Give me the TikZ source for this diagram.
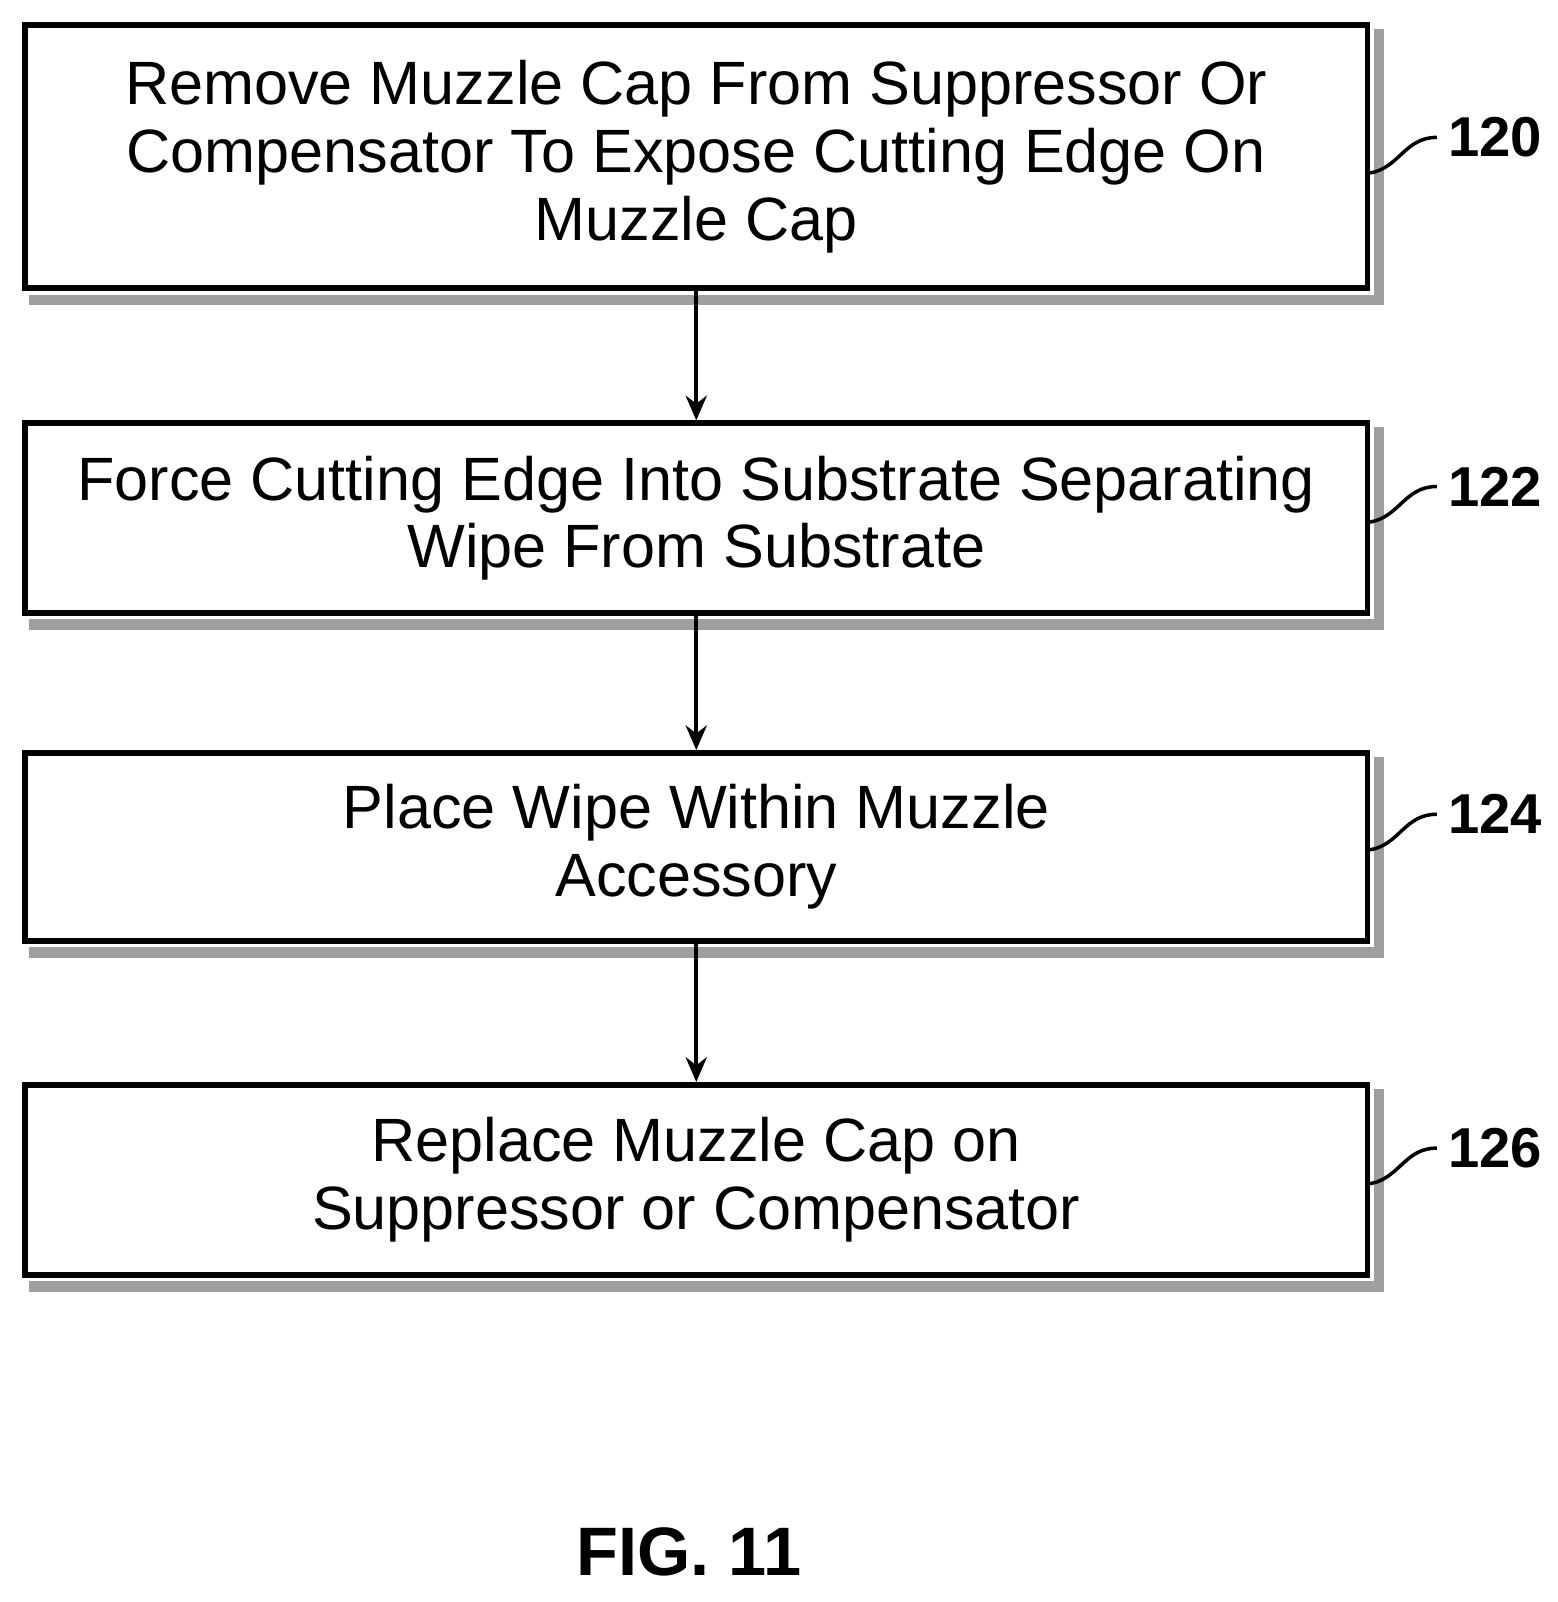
\documentclass[tikz,border=0pt]{standalone}
\usepackage{fontspec}
\setmainfont{Liberation Sans}
\usetikzlibrary{arrows.meta}
\begin{document}
\begin{tikzpicture}[x=0.01018cm,y=-0.01018cm,
 box/.style={draw,line width=1.6pt,minimum width=13.42cm,minimum height=#1,anchor=north west,align=center,font=\fontsize{17.4}{19.3}\selectfont,inner sep=0pt},
 shadow/.style={draw=gray!75,line width=3pt},
 lab/.style={font=\fontsize{16}{19}\selectfont,inner sep=0pt},
 arr/.style={-{Stealth[length=7pt,width=6pt]},line width=1.2pt}]
\useasboundingbox (0,0) rectangle (1530,1574);
\node[box=2.63cm] (b1) at (22,22) {Remove Muzzle Cap From Suppressor Or\\Compensator To Expose Cutting Edge On\\Muzzle Cap};
\node[box=1.90cm] (b2) at (22,413) {Force Cutting Edge Into Substrate Separating\\Wipe From Substrate};
\node[box=1.88cm] (b3) at (22,737) {Place Wipe Within Muzzle\\Accessory};
\node[box=1.90cm] (b4) at (22,1063) {Replace Muzzle Cap on\\Suppressor or Compensator};
\foreach \b in {b1,b2,b3,b4}{
 \draw[shadow] ([xshift=2.5pt,yshift=-2pt]\b.north east) -- ([xshift=2.5pt,yshift=-2.5pt]\b.south east) -- ([xshift=2pt,yshift=-2.5pt]\b.south west);
}
\draw[arr] (b1.south) -- (b2.north);
\draw[arr] (b2.south) -- (b3.north);
\draw[arr] (b3.south) -- (b4.north);
\foreach \b/\n/\y in {b1/120/135,b2/122/478,b3/124/800,b4/126/1128}{
 \node[lab,anchor=west] (l\n) at (1422,\y) {\bfseries\n};
 \draw[line width=1pt] (1346,\y+35) .. controls (1375,\y+30) and (1380,\y) .. ([xshift=-3pt]l\n.west);
}
\node[font=\bfseries\fontsize{19.5}{23}\selectfont] (fig) at (677,1525) {FIG. 11};
\end{tikzpicture}
\end{document}
